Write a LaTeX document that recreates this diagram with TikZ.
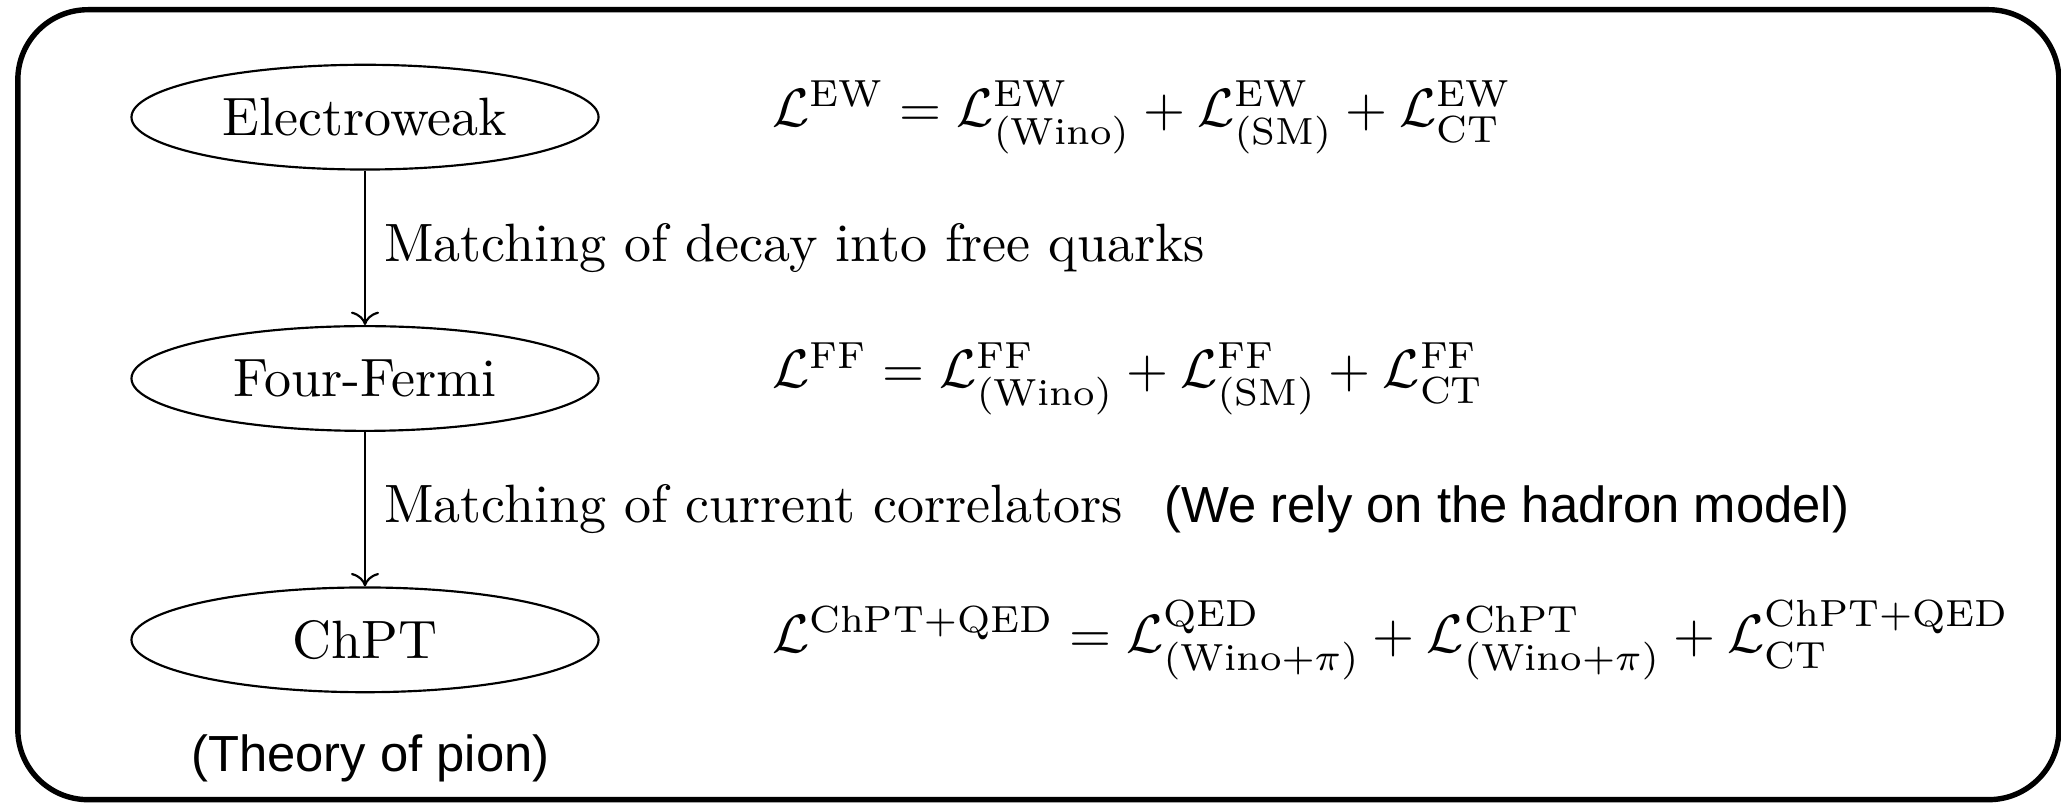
\documentclass[tikz,border=0pt]{standalone}
\usepackage{fontspec}
\newfontfamily\remarkfont{Liberation Sans}
\usetikzlibrary{shapes.geometric, arrows.meta, positioning}

\tikzset{
  theory/.style={draw, ellipse, minimum width=86.5pt, minimum height=19.4pt, inner sep=0pt},
  remark/.style={font=\fontsize{9.4}{11}\selectfont\remarkfont},
}

\begin{document}
\begin{tikzpicture}[x=1pt,y=1pt]
  \path[use as bounding box] (0,0) rectangle (381.7,-148.9);

  % Outer frame
  \draw[line width=1pt, rounded corners=13pt] (3.3,-1.8) rectangle (381.3,-148.1);

  % Effective theories
  \node[theory] (ew) at (67.6,-21.7) {Electroweak};
  \node[theory, below=28.6pt of ew] (ff) {Four-Fermi};
  \node[theory, below=28.6pt of ff] (chpt) {ChPT};
  \node[remark, below=4.2pt of chpt, xshift=1pt] (pion) {(Theory of pion)};

  % Lagrangians
  \node[right=28.4pt of ew] (lew)
    {$\mathcal{L}^{\mathrm{EW}} = \mathcal{L}^{\mathrm{EW}}_{(\mathrm{Wino})} + \mathcal{L}^{\mathrm{EW}}_{(\mathrm{SM})} + \mathcal{L}^{\mathrm{EW}}_{\mathrm{CT}}$};
  \node[right=28.4pt of ff] (lff)
    {$\mathcal{L}^{\mathrm{FF}} = \mathcal{L}^{\mathrm{FF}}_{(\mathrm{Wino})} + \mathcal{L}^{\mathrm{FF}}_{(\mathrm{SM})} + \mathcal{L}^{\mathrm{FF}}_{\mathrm{CT}}$};
  \node[right=28.4pt of chpt] (lchpt)
    {$\mathcal{L}^{\mathrm{ChPT+QED}} = \mathcal{L}^{\mathrm{QED}}_{(\mathrm{Wino}+\pi)} + \mathcal{L}^{\mathrm{ChPT}}_{(\mathrm{Wino}+\pi)} + \mathcal{L}^{\mathrm{ChPT+QED}}_{\mathrm{CT}}$};

  % Matching steps
  \draw[->] (ew) -- (ff) node[midway, right] (m1) {Matching of decay into free quarks};
  \draw[->] (ff) -- (chpt) node[midway, right] (m2) {Matching of current correlators};
  \node[remark, right=0.6pt of m2.base east, anchor=base west] (hadron) {(We rely on the hadron model)};
\end{tikzpicture}
\end{document}
